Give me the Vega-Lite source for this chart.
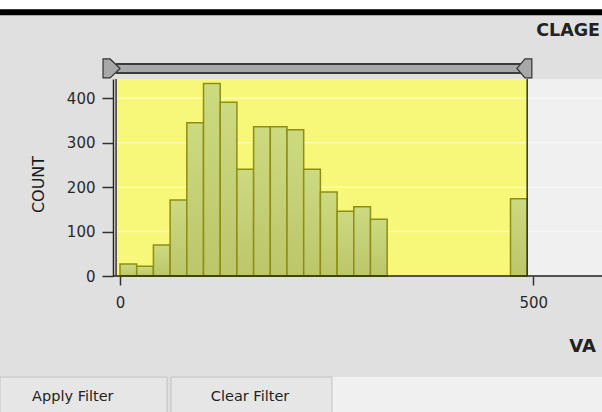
{
  "$schema": "https://vega.github.io/schema/vega-lite/v6.json",
  "width": 489,
  "height": 197,
  "autosize": "none",
  "padding": {"left": 113, "top": 79, "right": 0, "bottom": 136},
  "background": "#e0e0e0",
  "config": {"view": {"stroke": null}},
  "datasets": {
    "bins": [
      {"start": 0, "end": 20.2, "count": 27},
      {"start": 20.2, "end": 40.4, "count": 22},
      {"start": 40.4, "end": 60.6, "count": 70},
      {"start": 60.6, "end": 80.8, "count": 171},
      {"start": 80.8, "end": 101, "count": 345},
      {"start": 101, "end": 121.2, "count": 433},
      {"start": 121.2, "end": 141.4, "count": 391},
      {"start": 141.4, "end": 161.6, "count": 240},
      {"start": 161.6, "end": 181.8, "count": 336},
      {"start": 181.8, "end": 202, "count": 336},
      {"start": 202, "end": 222.2, "count": 329},
      {"start": 222.2, "end": 242.4, "count": 240},
      {"start": 242.4, "end": 262.6, "count": 189},
      {"start": 262.6, "end": 282.8, "count": 146},
      {"start": 282.8, "end": 303, "count": 156},
      {"start": 303, "end": 323.2, "count": 128},
      {"start": 472.4, "end": 492.6, "count": 174}
    ],
    "filter": [{"lo": -4.8, "hi": 492.6}],
    "grid": [{"g": 100}, {"g": 200}, {"g": 300}, {"g": 400}]
  },
  "resolve": {"axis": {"x": "independent", "y": "independent"}},
  "layer": [
    {
      "data": {"name": "filter"},
      "mark": {"type": "rect", "fill": "#f0f0f0"},
      "encoding": {
        "x": {"datum": 256.4, "type": "quantitative", "axis": null},
        "x2": {"datum": 583.1},
        "y": {"datum": -227.3, "type": "quantitative", "axis": null},
        "y2": {"datum": -320}
      }
    },
    {
      "data": {"name": "filter"},
      "mark": {"type": "rect", "fill": "#e6e6e6", "stroke": "#c2c2c2", "strokeWidth": 1},
      "encoding": {
        "x": {"datum": -145.2, "type": "quantitative", "axis": null},
        "x2": {"datum": 56.9},
        "y": {"datum": -227.3, "type": "quantitative", "axis": null},
        "y2": {"datum": -320}
      }
    },
    {
      "data": {"name": "filter"},
      "mark": {"type": "rect", "fill": "#e6e6e6", "stroke": "#c2c2c2", "strokeWidth": 1},
      "encoding": {
        "x": {"datum": 61.7, "type": "quantitative", "axis": null},
        "x2": {"datum": 256.4},
        "y": {"datum": -227.3, "type": "quantitative", "axis": null},
        "y2": {"datum": -320}
      }
    },
    {
      "data": {"name": "filter"},
      "mark": {"type": "text", "font": "DejaVu Sans", "fontSize": 14.5, "color": "#222222", "align": "center", "baseline": "middle"},
      "encoding": {
        "x": {"datum": -57.1, "type": "quantitative", "axis": null},
        "y": {"datum": -272.4, "type": "quantitative", "axis": null},
        "text": {"value": "Apply Filter"}
      }
    },
    {
      "data": {"name": "filter"},
      "mark": {"type": "text", "font": "DejaVu Sans", "fontSize": 14.5, "color": "#222222", "align": "center", "baseline": "middle"},
      "encoding": {
        "x": {"datum": 157.3, "type": "quantitative", "axis": null},
        "y": {"datum": -272.4, "type": "quantitative", "axis": null},
        "text": {"value": "Clear Filter"}
      }
    },
    {
      "data": {"name": "filter"},
      "mark": {"type": "rect", "fill": "#ffffff"},
      "encoding": {
        "x": {"datum": -145.2, "type": "quantitative", "axis": null},
        "x2": {"datum": 583.1},
        "y": {"datum": 625, "type": "quantitative", "axis": null},
        "y2": {"datum": 600.4}
      }
    },
    {
      "data": {"name": "filter"},
      "mark": {"type": "rect", "fill": "#000000"},
      "encoding": {
        "x": {"datum": -145.2, "type": "quantitative", "axis": null},
        "x2": {"datum": 583.1},
        "y": {"datum": 600.4, "type": "quantitative", "axis": null},
        "y2": {"datum": 586.8}
      }
    },
    {
      "data": {"name": "filter"},
      "mark": {"type": "text", "font": "DejaVu Sans", "fontSize": 17.5, "fontWeight": "bold", "color": "#222222", "align": "right", "baseline": "middle", "dx": -2},
      "encoding": {
        "x": {"datum": 583.1, "type": "quantitative", "axis": null},
        "y": {"datum": 550.4, "type": "quantitative", "axis": null},
        "text": {"value": "CLAGE"}
      }
    },
    {
      "data": {"name": "filter"},
      "mark": {"type": "rect", "fill": "#f0f0f0"},
      "encoding": {
        "x": {"datum": -8.5, "type": "quantitative", "axis": null},
        "x2": {"datum": 583.1},
        "y": {"datum": 443.4, "type": "quantitative", "axis": null},
        "y2": {"datum": 0}
      }
    },
    {
      "data": {"name": "filter"},
      "mark": {"type": "rect", "fill": "#f7f779"},
      "encoding": {
        "x": {"field": "lo", "type": "quantitative", "axis": null},
        "x2": {"field": "hi"},
        "y": {"datum": 443.4, "type": "quantitative", "axis": null},
        "y2": {"datum": 0}
      }
    },
    {
      "data": {"name": "grid"},
      "mark": {"type": "rule", "color": "#ffffff", "opacity": 0.45, "strokeWidth": 1.5},
      "encoding": {
        "x": {"datum": -8.5, "type": "quantitative", "axis": null},
        "x2": {"datum": 583.1},
        "y": {"field": "g", "type": "quantitative", "axis": null}
      }
    },
    {
      "data": {"name": "bins"},
      "mark": {
        "type": "rect",
        "fill": {"gradient": "linear", "x1": 0, "y1": 0, "x2": 0, "y2": 1,
          "stops": [{"offset": 0, "color": "#ccda80"}, {"offset": 1, "color": "#bcc66b"}]},
        "stroke": "#8e8e12",
        "strokeWidth": 1.5
      },
      "encoding": {
        "x": {
          "field": "start", "type": "quantitative",
          "scale": {"domain": [-8.5, 583.1], "nice": false, "zero": false},
          "axis": {
            "orient": "bottom", "values": [0, 500], "domain": false, "grid": false, "zindex": 1,
            "tickColor": "#333333", "tickSize": 9, "tickWidth": 1.5,
            "labelFont": "DejaVu Sans", "labelFontSize": 15, "labelColor": "#2a2a2a", "labelPadding": 10, "labelFlush": false,
            "title": "VA", "titleX": 469, "titleY": 70, "titleAlign": "center", "titleBaseline": "middle",
            "titleFont": "DejaVu Sans", "titleFontSize": 18, "titleFontWeight": "bold", "titleColor": "#222222"
          }
        },
        "x2": {"field": "end"},
        "y": {
          "field": "count", "type": "quantitative",
          "scale": {"domain": [0, 443.4], "nice": false, "zero": false},
          "axis": {
            "orient": "left", "values": [0, 100, 200, 300, 400], "zindex": 1,
            "domainColor": "#222222", "domainWidth": 1.5, "grid": false,
            "tickColor": "#333333", "tickSize": 11, "tickWidth": 1.5,
            "labelFont": "DejaVu Sans", "labelFontSize": 15, "labelColor": "#2a2a2a", "labelPadding": 7,
            "title": "COUNT", "titleX": -75, "titleY": 105, "titleAngle": -90, "titleAlign": "center", "titleBaseline": "middle",
            "titleFont": "DejaVu Sans", "titleFontSize": 16, "titleFontWeight": "normal", "titleColor": "#1a1a1a"
          }
        },
        "y2": {"datum": 0}
      }
    },
    {
      "data": {"name": "filter"},
      "mark": {"type": "rule", "color": "#222222", "strokeWidth": 1.5},
      "encoding": {
        "x": {"datum": -8.5, "type": "quantitative", "axis": null},
        "x2": {"datum": 583.1},
        "y": {"datum": 0, "type": "quantitative", "axis": null}
      }
    },
    {
      "data": {"name": "filter"},
      "mark": {"type": "rule", "color": "#333333", "strokeWidth": 1.5},
      "encoding": {
        "x": {"field": "lo", "type": "quantitative", "axis": null}
      }
    },
    {
      "data": {"name": "filter"},
      "mark": {"type": "rule", "color": "#333333", "strokeWidth": 1.5},
      "encoding": {
        "x": {"field": "hi", "type": "quantitative", "axis": null}
      }
    },
    {
      "data": {"name": "filter"},
      "mark": {"type": "rule", "color": "#3c3c3c", "strokeWidth": 11},
      "encoding": {
        "x": {"field": "lo", "type": "quantitative", "axis": null},
        "x2": {"field": "hi"},
        "y": {"datum": 467.1, "type": "quantitative", "axis": null}
      }
    },
    {
      "data": {"name": "filter"},
      "mark": {"type": "rule", "color": "#a8a8a8", "strokeWidth": 7},
      "encoding": {
        "x": {"field": "lo", "type": "quantitative", "axis": null},
        "x2": {"field": "hi"},
        "y": {"datum": 467.1, "type": "quantitative", "axis": null}
      }
    },
    {
      "data": {"name": "filter"},
      "mark": {"type": "point", "filled": true, "opacity": 1, "color": "#a8a8a8", "stroke": "#333333", "strokeWidth": 1.2, "size": 361,
        "shape": "M-1.37,-1L-0.63,-1L0.42,0L-0.63,1L-1.37,1Z"},
      "encoding": {
        "x": {"field": "lo", "type": "quantitative", "axis": null},
        "y": {"datum": 467.1, "type": "quantitative", "axis": null}
      }
    },
    {
      "data": {"name": "filter"},
      "mark": {"type": "point", "filled": true, "opacity": 1, "color": "#a8a8a8", "stroke": "#333333", "strokeWidth": 1.2, "size": 361,
        "shape": "M0.49,-1L-0.24,-1L-1.08,0L-0.24,1L0.49,1Z"},
      "encoding": {
        "x": {"field": "hi", "type": "quantitative", "axis": null},
        "y": {"datum": 467.1, "type": "quantitative", "axis": null}
      }
    }
  ]
}
